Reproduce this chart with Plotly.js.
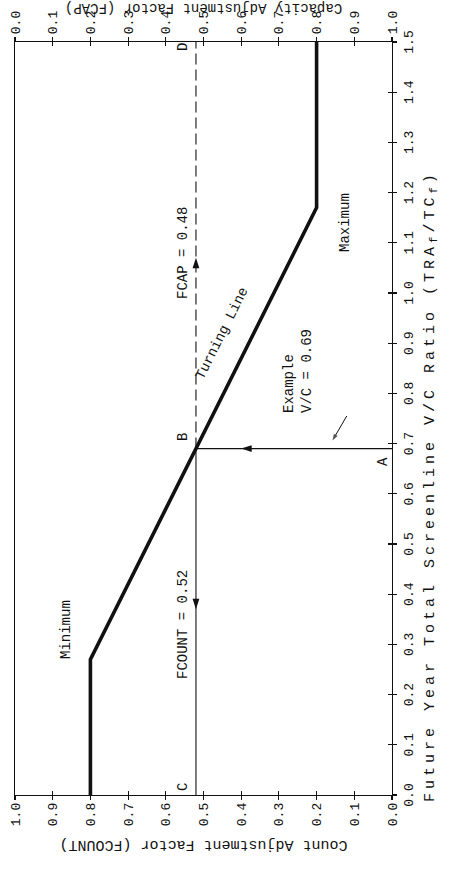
<!DOCTYPE html>
<html>
<head>
<meta charset="utf-8">
<script src="https://cdn.plot.ly/plotly-3.0.1.min.js"></script>
<style>
  html, body { margin: 0; padding: 0; background: #fff; overflow: hidden; width: 455px; height: 869px; }
  /* the figure is laid out landscape and turned a quarter turn to fit the page */
  #chart { position: absolute; left: 0; top: 0; width: 869px; height: 455px;
           transform-origin: 0 0; transform: translate(0, 869px) rotate(-90deg); }
  /* typewriter-style spaced caption under the V/C axis */
  #chart .annotation[data-index="0"] .annotation-text { letter-spacing: 4px; }
</style>
</head>
<body>
<div id="chart"></div>
<script>
// Turning line: count adjustment factor against future-year screenline V/C ratio
const turnVC     = [0.0, 0.27, 1.17, 1.5];
const turnFCOUNT = [0.8, 0.8, 0.2, 0.2];

// Worked example
const exampleVC     = 0.69;
const exampleFCOUNT = 0.52;
const exampleFCAP   = 0.48;

// Axis ticks
const vcTicks     = [0.0, 0.1, 0.2, 0.3, 0.4, 0.5, 0.6, 0.7, 0.8, 0.9, 1.0, 1.1, 1.2, 1.3, 1.4, 1.5];
const factorTicks = [0.0, 0.1, 0.2, 0.3, 0.4, 0.5, 0.6, 0.7, 0.8, 0.9, 1.0];

// Text labels
const vcTitle    = 'Future Year Total Screenline V/C Ratio (TRA<sub>f</sub>/TC<sub>f</sub>)';
const countTitle = 'Count Adjustment Factor (FCOUNT)';
const capTitle   = 'Capacity Adjustment Factor (FCAP)';
const minLabel   = 'Minimum';
const maxLabel   = 'Maximum';
const turnLabel  = 'Turning Line';
const exLabel    = 'Example<br>V/C = ' + exampleVC.toFixed(2);
const pointNames = ['A', 'B', 'C', 'D'];

const FONT = 'Liberation Mono, Courier New, monospace';
const INK = '#111';

const traces = [
  { // turning line
    x: turnVC, y: turnFCOUNT, mode: 'lines', xaxis: 'x', yaxis: 'y',
    line: { color: INK, width: 3.6 }, hoverinfo: 'skip', showlegend: false
  },
  { // A -> B
    x: [exampleVC, exampleVC], y: [0, exampleFCOUNT], mode: 'lines',
    line: { color: INK, width: 1.1 }, hoverinfo: 'skip', showlegend: false
  },
  { // B -> C
    x: [exampleVC, 0], y: [exampleFCOUNT, exampleFCOUNT], mode: 'lines',
    line: { color: INK, width: 1.1 }, hoverinfo: 'skip', showlegend: false
  },
  { // B -> D
    x: [exampleVC, 1.5], y: [exampleFCOUNT, exampleFCOUNT], mode: 'lines',
    line: { color: INK, width: 1.1, dash: '11px,5px' }, hoverinfo: 'skip', showlegend: false
  },
  { // direction arrowheads on the example path: towards B, towards C, towards D
    x: [exampleVC, 0.37, 1.07], y: [0.40, exampleFCOUNT, exampleFCOUNT], mode: 'markers',
    marker: { symbol: 'arrow', size: 11, angle: [0, 270, 90], color: INK, line: { width: 0 } },
    hoverinfo: 'skip', showlegend: false
  },
  { // pointer from the example note to the A-B line
    x: [0.755, 0.706], y: [0.12, 0.158], mode: 'lines+markers',
    line: { color: INK, width: 1 },
    marker: { symbol: 'arrow', size: [0, 7], angleref: 'previous', color: INK, line: { width: 0 } },
    hoverinfo: 'skip', showlegend: false
  }
];

function txt(text, x, y, extra) {
  return Object.assign({
    text: text, x: x, y: y, xref: 'x', yref: 'y', showarrow: false,
    font: { family: FONT, size: 14, color: INK }
  }, extra || {});
}

const annotations = [
  { // V/C axis caption (index 0, letter-spaced in the stylesheet)
    text: vcTitle, xref: 'paper', yref: 'paper', x: 0.41, y: 0, yshift: -39,
    xanchor: 'center', yanchor: 'middle', showarrow: false,
    font: { family: FONT, size: 15, color: INK }
  },
  txt(minLabel, 0.33, 0.865),
  txt(maxLabel, 1.14, 0.125),
  txt(turnLabel, 0.92, 0.45, { textangle: 26.5 }),
  txt('FCAP = ' + exampleFCAP.toFixed(2), 1.08, 0.555),
  txt('FCOUNT = ' + exampleFCOUNT.toFixed(2), 0.34, 0.555),
  txt(exLabel, 0.845, 0.25, { align: 'left' }),
  txt(pointNames[0], 0.665, 0.025),
  txt(pointNames[1], 0.714, 0.555),
  txt(pointNames[2], 0.016, 0.555),
  txt(pointNames[3], 1.49, 0.555)
];

const tickFont = { family: FONT, size: 13, color: INK };
const baseAxis = {
  showgrid: false, zeroline: false, showline: true, linecolor: INK, linewidth: 1.2,
  ticks: 'outside', ticklen: 4, tickwidth: 1.2, tickcolor: INK, tickfont: tickFont,
  tickformat: '.1f', fixedrange: true
};
const innerTicks = {
  showgrid: false, zeroline: false, showline: false, showticklabels: false,
  ticks: 'inside', ticklen: 4, tickwidth: 1.2, tickcolor: INK, fixedrange: true
};

const layout = {
  width: 869, height: 455,
  margin: { l: 74, r: 42, t: 15, b: 63 },
  paper_bgcolor: '#fff', plot_bgcolor: '#fff',
  font: { family: FONT, color: INK },
  showlegend: false,
  xaxis: Object.assign({}, baseAxis, { range: [0, 1.5], tickvals: vcTicks, mirror: true }),
  xaxis2: Object.assign({}, innerTicks, { range: [0, 1.5], tickvals: vcTicks, overlaying: 'x', anchor: 'y', side: 'bottom' }),
  yaxis: Object.assign({}, baseAxis, {
    range: [0, 1], tickvals: factorTicks,
    title: { text: countTitle, font: { family: FONT, size: 15, color: INK }, standoff: 10 }
  }),
  yaxis2: Object.assign({}, baseAxis, {
    range: [1, 0], tickvals: factorTicks, overlaying: 'y', side: 'right', anchor: 'x',
    title: { text: capTitle, font: { family: FONT, size: 14, color: INK }, standoff: 1 }
  }),
  yaxis3: Object.assign({}, innerTicks, { range: [0, 1], tickvals: factorTicks, overlaying: 'y', side: 'left', anchor: 'x' }),
  yaxis4: Object.assign({}, innerTicks, { range: [1, 0], tickvals: factorTicks, overlaying: 'y', side: 'right', anchor: 'x' }),
  annotations: annotations
};

// empty traces so the extra tick axes get drawn
traces.push({ x: [null], y: [null], xaxis: 'x2', yaxis: 'y', hoverinfo: 'skip', showlegend: false });
traces.push({ x: [null], y: [null], xaxis: 'x', yaxis: 'y2', hoverinfo: 'skip', showlegend: false });
traces.push({ x: [null], y: [null], xaxis: 'x', yaxis: 'y3', hoverinfo: 'skip', showlegend: false });
traces.push({ x: [null], y: [null], xaxis: 'x', yaxis: 'y4', hoverinfo: 'skip', showlegend: false });

Plotly.newPlot('chart', traces, layout, { displayModeBar: false, staticPlot: true });
</script>
</body>
</html>
